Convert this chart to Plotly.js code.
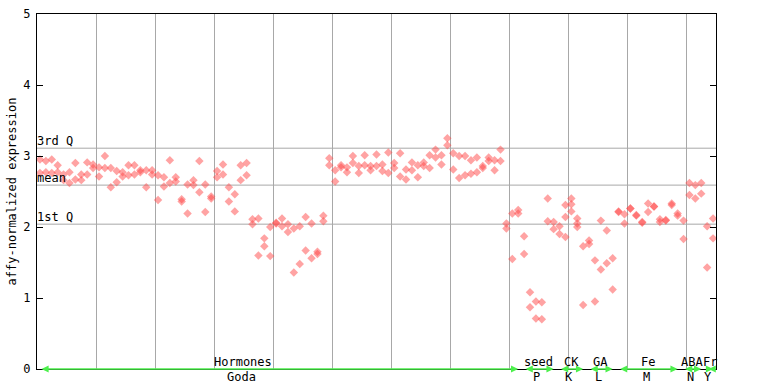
<!DOCTYPE html>
<html>
<head>
<meta charset="utf-8">
<script src="https://cdn.plot.ly/plotly-3.0.1.min.js"></script>
<style>html,body{margin:0;padding:0;background:#fff;}#chart{width:768px;height:384px;}</style>
</head>
<body>
<div id="chart"></div>
<script>
// replicate values per sample (115 samples)
const rep1 = [2.95,2.93,2.95,2.87,2.74,2.77,2.90,2.74,2.91,2.88,
  2.84,3.00,2.83,2.79,2.77,2.87,2.87,2.80,2.80,2.80,
  2.73,2.70,2.94,2.70,2.39,2.60,2.66,2.93,2.60,2.43,
  2.79,2.88,2.56,2.46,2.87,2.90,2.11,2.12,1.84,2.00,
  2.06,2.12,2.04,1.98,2.01,2.14,2.05,1.65,2.16,2.97,
  2.80,2.87,2.84,3.00,2.86,3.01,2.86,3.02,2.88,3.05,
  2.90,3.04,2.81,2.91,2.87,2.91,3.01,3.09,3.01,3.25,
  3.04,3.00,3.00,2.94,2.98,2.86,2.98,2.94,3.09,2.05,
  2.19,2.24,1.87,1.08,0.95,0.94,2.40,2.07,2.01,2.31,
  2.40,2.12,1.73,1.81,1.53,2.09,1.95,1.56,2.22,2.18,
  2.26,2.17,2.07,2.33,2.29,2.11,2.10,2.33,2.19,2.09,
  2.62,2.59,2.62,2.01,2.12];
const rep2 = [2.76,2.77,2.76,2.77,2.66,2.62,2.67,2.66,2.74,2.83,
  2.71,2.83,2.56,2.63,2.71,2.73,2.74,2.77,2.56,2.74,
  2.38,2.57,2.62,2.64,2.36,2.19,2.59,2.49,2.21,2.40,
  2.70,2.74,2.36,2.22,2.66,2.73,2.04,1.60,1.73,1.59,
  2.05,2.01,1.93,1.36,1.48,1.67,1.56,1.62,2.08,2.87,
  2.64,2.84,2.77,2.90,2.76,2.87,2.80,2.86,2.79,2.76,
  2.83,2.71,2.67,2.80,2.70,2.86,2.83,2.98,2.88,3.15,
  2.81,2.69,2.73,2.75,2.77,2.83,2.93,2.80,2.93,1.98,
  1.55,2.19,1.62,0.87,0.71,0.70,2.08,1.97,1.90,1.86,
  2.22,2.00,0.90,1.76,0.95,1.40,1.49,1.12,2.21,2.05,
  2.26,2.16,2.06,2.21,2.29,2.07,2.09,2.31,2.16,1.83,
  2.45,2.40,2.47,1.43,1.84];
const extraIdx = [89, 90, 91];
const extraVal = [2.14, 2.32, 2.05];

// summary lines
const statLabels = ['3rd Q', 'mean', '1st Q'];
const statValues = [3.11, 2.59, 2.04];

// sample groups
const groupNames = ['Hormones', 'seed', 'CK', 'GA', 'Fe', 'ABA', 'Fr'];
const groupSubs  = ['Goda', 'P', 'K', 'L', 'M', 'N', 'Y'];
const groupStart = [0, 82, 88, 93, 98, 109, 113];
const groupEnd   = [81, 87, 92, 97, 108, 112, 114];

const yTicks = [0, 1, 2, 3, 4, 5];

const nSamples = rep1.length;
const xs = [], ys = [];
for (let i = 0; i < nSamples; i++) {
  xs.push(i + 0.5); ys.push(rep1[i]);
  xs.push(i + 0.5); ys.push(rep2[i]);
}
extraIdx.forEach((i, k) => { xs.push(i + 0.5); ys.push(extraVal[k]); });

const FONT = 'DejaVu Sans Mono, monospace';
const GREEN = '#4cf04c';

const trace = {
  type: 'scatter', mode: 'markers', x: xs, y: ys,
  marker: {symbol: 'diamond', size: 6.5, color: '#ff4848', opacity: 0.5, line: {width: 0}},
  hoverinfo: 'x+y', showlegend: false, cliponaxis: false
};

const shapes = statValues.map(v => ({
  type: 'line', xref: 'paper', x0: 0, x1: 1, yref: 'y', y0: v, y1: v,
  line: {color: '#a8a8a8', width: 1}, layer: 'below'
}));

const annotations = [];
statLabels.forEach((t, k) => annotations.push({
  text: t, xref: 'paper', x: 0, xanchor: 'left', yref: 'y', y: statValues[k],
  yanchor: 'bottom', showarrow: false, font: {family: FONT, size: 12, color: '#000'},
  yshift: -2, xshift: -2
}));
groupNames.forEach((g, k) => {
  const s = groupStart[k] + 0.5, e = groupEnd[k] + 0.5;
  const c = (groupStart[k] + groupEnd[k] + 1) / 2;
  const shift = k === 0 ? -36 : 0;
  annotations.push({
    x: e, y: 0, ax: s, ay: 0, xref: 'x', yref: 'y', axref: 'x', ayref: 'y',
    text: '', showarrow: true, arrowside: 'end+start', arrowhead: 2, arrowsize: 0.9,
    arrowwidth: 1.6, arrowcolor: GREEN, standoff: 0, startstandoff: 0
  });
  annotations.push({
    text: g, x: c, y: 0, xref: 'x', yref: 'y', yanchor: 'bottom', showarrow: false,
    font: {family: FONT, size: 12, color: '#000'}, yshift: -2, xshift: shift
  });
  annotations.push({
    text: groupSubs[k], x: c, y: 0, xref: 'x', yref: 'y', yanchor: 'top', showarrow: false,
    font: {family: FONT, size: 12, color: '#000'}, yshift: 1, xshift: shift - 2
  });
});

const layout = {
  width: 768, height: 384,
  margin: {l: 37, r: 52, t: 14, b: 15, pad: 0},
  paper_bgcolor: '#fff', plot_bgcolor: '#fff',
  font: {family: FONT, size: 12, color: '#000'},
  showlegend: false,
  xaxis: {
    range: [0, nSamples], dtick: 10, tick0: 0, showgrid: true, gridcolor: '#a8a8a8', gridwidth: 1,
    zeroline: false, showticklabels: false, ticks: '', showline: true, linecolor: '#000',
    linewidth: 1, mirror: true, fixedrange: true
  },
  yaxis: {
    range: [0, 5], tickvals: yTicks, ticktext: yTicks.map(String), showgrid: false, zeroline: false,
    ticks: 'inside', ticklen: 6, tickcolor: '#000', tickwidth: 1, showline: true, linecolor: '#000',
    linewidth: 1, mirror: 'allticks', ticklabelstandoff: 3, automargin: false,
    title: {text: 'affy-normalized expression', font: {family: FONT, size: 12, color: '#000'}, standoff: 4},
    tickfont: {family: FONT, size: 12, color: '#000'}, fixedrange: true
  },
  shapes: shapes,
  annotations: annotations
};

Plotly.newPlot('chart', [trace], layout, {displayModeBar: false, staticPlot: true});
</script>
</body>
</html>
